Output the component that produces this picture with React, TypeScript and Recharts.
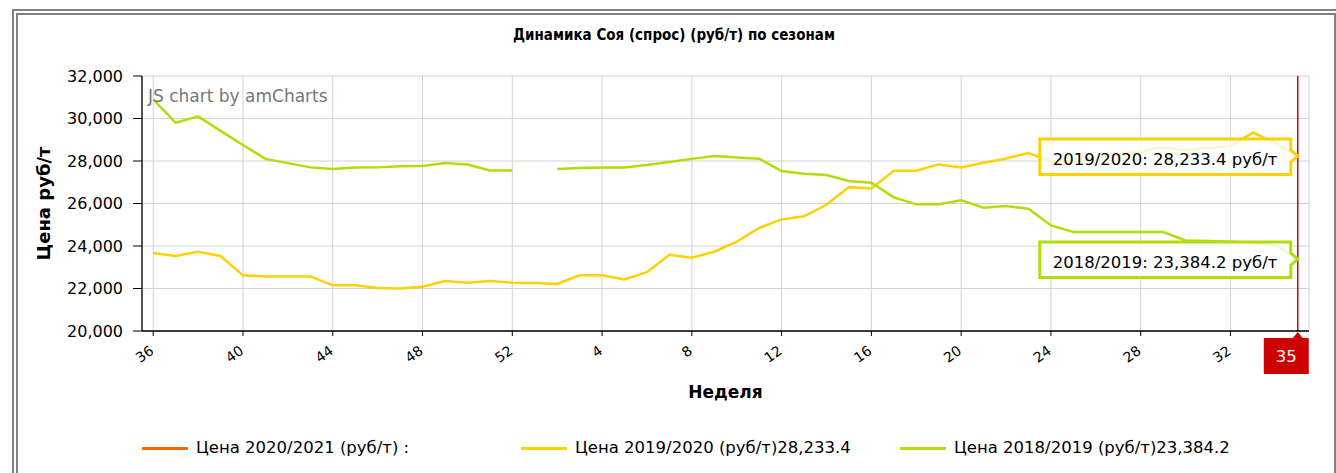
import React from "react";
import {
  LineChart,
  Line,
  XAxis,
  YAxis,
  CartesianGrid,
  ReferenceLine,
  Legend,
} from "recharts";

// weeks of the season, 36 .. 52 then 1 .. 35
const weeks = [
  36, 37, 38, 39, 40, 41, 42, 43, 44, 45, 46, 47, 48, 49, 50, 51, 52,
  1, 2, 3, 4, 5, 6, 7, 8, 9, 10, 11, 12, 13, 14, 15, 16, 17, 18, 19, 20,
  21, 22, 23, 24, 25, 26, 27, 28, 29, 30, 31, 32, 33, 34, 35,
];

const price1920: (number | null)[] = [
  23670, 23530, 23730, 23530, 22620, 22570, 22570, 22570, 22150, 22150, 22020, 22000, 22080, 22350, 22270, 22350, 22270,
  22260, 22210, 22620, 22620, 22430, 22770, 23590, 23450, 23730, 24200, 24850, 25250, 25400, 25940, 26770, 26710, 27540, 27540, 27840, 27690,
  27920, 28120, 28370, 27980, 28000, 28150, 28300, 28450, 28660, 28500, 28620, 28700, 29330, 28860, 28233.4,
];

const price1819: (number | null)[] = [
  30900, 29800, 30100, 29420, 28750, 28100, 27900, 27700, 27620, 27690, 27700, 27750, 27770, 27900, 27830, 27550, 27550,
  null, 27620, 27670, 27690, 27690, 27810, 27950, 28100, 28230, 28170, 28110, 27530, 27400, 27340, 27060, 26980, 26290, 25960, 25960, 26150,
  25800, 25880, 25750, 24970, 24660, 24660, 24660, 24660, 24660, 24260, 24230, 24200, 24150, 24050, 23384.2,
];

// no data yet for the current season
const price2021: (number | null)[] = weeks.map(() => null);

const yTicks = [20000, 22000, 24000, 26000, 28000, 30000, 32000];
const xTickIdx = [0, 4, 8, 12, 16, 20, 24, 28, 32, 36, 40, 44, 48];
const cursorIdx = weeks.length - 1;
const legendOrder = ["p2021", "p1920", "p1819"];

const seriesInfo: Record<string, { values: (number | null)[]; short: string }> = {
  p2021: { values: price2021, short: "2020/2021" },
  p1920: { values: price1920, short: "2019/2020" },
  p1819: { values: price1819, short: "2018/2019" },
};

const rows = weeks.map((w, i) => ({
  idx: i,
  week: w,
  p2021: price2021[i],
  p1920: price1920[i],
  p1819: price1819[i],
}));

const fmt = (v: number) =>
  v.toLocaleString("en-US", { maximumFractionDigits: 1 });

const FONT = "'DejaVu Sans', Verdana, sans-serif";

function WeekTick(props: any) {
  const { x, y, payload } = props;
  const ex = x + 1.5;
  const ey = y + 15;
  return (
    <text
      x={ex}
      y={ey}
      transform={`rotate(-35 ${ex} ${ey})`}
      textAnchor="end"
      fontSize={14}
      fill="#000"
    >
      {weeks[payload.value]}
    </text>
  );
}

function makeBalloon(color: string, dataKey: string) {
  return (props: any) => {
    const { cx, cy, index, value } = props;
    if (index !== cursorIdx || value == null || cx == null) {
      return <g key={`d-${dataKey}-${index}`} />;
    }
    const R = cx - 7;
    const L = R - 251;
    const T = cy - 17;
    const B = cy + 18.5;
    const path = `M${L},${T} H${R} V${cy - 6} L${cx},${cy} L${R},${cy + 6} V${B} H${L} Z`;
    return (
      <g key={`d-${dataKey}-${index}`}>
        <path d={path} fill="#fff" fillOpacity={0.8} stroke={color} strokeWidth={3} />
        <text x={L + 13} y={cy + 9} fontSize={16.5} fill="#000">
          {`${seriesInfo[dataKey].short}: ${fmt(value)} руб/т`}
        </text>
      </g>
    );
  };
}

function CursorLabel(props: any) {
  const { viewBox } = props;
  if (!viewBox) return null;
  const x = viewBox.x;
  const top = viewBox.y + viewBox.height + 7;
  const L = x - 34;
  const R = x + 11;
  const path = `M${L},${top} H${x - 5} L${x},${top - 6} L${x + 5},${top} H${R} V${top + 36} H${L} Z`;
  return (
    <g>
      <path d={path} fill="#CC0000" />
      <text x={(L + R) / 2} y={top + 24} fontSize={16.5} fill="#fff" textAnchor="middle">
        {weeks[cursorIdx]}
      </text>
    </g>
  );
}

function YTitle(props: any) {
  const { viewBox } = props;
  const cx = 43;
  const cy = viewBox.y + viewBox.height / 2;
  return (
    <text
      x={cx}
      y={cy}
      transform={`rotate(-90 ${cx} ${cy})`}
      textAnchor="middle"
      dominantBaseline="central"
      fontSize={18}
      fontWeight="bold"
      fill="#000"
    >
      Цена руб/т
    </text>
  );
}

function XTitle(props: any) {
  const { viewBox } = props;
  return (
    <text
      x={viewBox.x + viewBox.width / 2}
      y={viewBox.y + 61}
      textAnchor="middle"
      dominantBaseline="central"
      fontSize={17}
      fontWeight="bold"
      fill="#000"
    >
      Неделя
    </text>
  );
}

function renderLegend(props: any) {
  const items = [...(props.payload || [])].sort(
    (a: any, b: any) => legendOrder.indexOf(a.dataKey) - legendOrder.indexOf(b.dataKey)
  );
  return (
    <div style={{ display: "flex", fontSize: 16.5, lineHeight: "24px", color: "#000" }}>
      {items.map((p: any) => {
        const info = seriesInfo[p.dataKey];
        const last = info.values[cursorIdx];
        return (
          <div key={p.dataKey} style={{ width: 379, display: "flex", alignItems: "center" }}>
            <span
              style={{ display: "inline-block", width: 46, height: 3, background: p.color, marginRight: 8 }}
            />
            <span style={{ whiteSpace: "nowrap" }}>
              {`Цена ${info.short} (руб/т)${last == null ? " :" : fmt(last)}`}
            </span>
          </div>
        );
      })}
    </div>
  );
}

export default function App() {
  return (
    <div style={{ position: "absolute", left: 0, top: 0, width: 1336, height: 473, overflow: "hidden", background: "#fff", fontFamily: FONT }}>
      <div
        style={{
          position: "absolute",
          left: 12,
          top: 9,
          width: 1328,
          height: 480,
          border: "6px double #808080",
          boxSizing: "border-box",
        }}
      />
      <div
        style={{
          position: "absolute",
          left: 12,
          top: 26,
          width: 1324,
          textAlign: "center",
          fontSize: 15,
          fontWeight: "bold",
          fontFamily: "'DejaVu Sans Condensed', 'DejaVu Sans', sans-serif",
          fontStretch: "condensed",
          color: "#000",
          lineHeight: "18px",
        }}
      >
        Динамика Соя (спрос) (руб/т) по сезонам
      </div>
      <div style={{ position: "absolute", left: 0, top: 0 }}>
        <LineChart
          width={1336}
          height={473}
          data={rows}
          margin={{ top: 76, right: 27, left: 30, bottom: 40 }}
        >
          <CartesianGrid stroke="#d2d2d2" strokeWidth={1} />
          <XAxis
            dataKey="idx"
            type="number"
            domain={[-0.5, weeks.length - 0.5]}
            ticks={xTickIdx}
            interval={0}
            height={102}
            tickSize={5}
            axisLine={{ stroke: "#000", strokeWidth: 1.3 }}
            tickLine={{ stroke: "#000" }}
            tick={<WeekTick />}
            label={<XTitle />}
          />
          <YAxis
            domain={[20000, 32000]}
            ticks={yTicks}
            width={112}
            tickSize={9}
            tickMargin={10}
            tickFormatter={(v: number) => fmt(v)}
            axisLine={{ stroke: "#000", strokeWidth: 1.3 }}
            tickLine={{ stroke: "#000" }}
            tick={{ fontSize: 16, fill: "#000" }}
            label={<YTitle />}
          />
          <Line
            dataKey="p2021"
            name="Цена 2020/2021 (руб/т)"
            stroke="#FF6600"
            strokeWidth={2.5}
            dot={false}
            isAnimationActive={false}
          />
          <Line
            dataKey="p1920"
            name="Цена 2019/2020 (руб/т)"
            stroke="#FCD202"
            strokeWidth={2.5}
            dot={makeBalloon("#FCD202", "p1920")}
            activeDot={false}
            isAnimationActive={false}
          />
          <Line
            dataKey="p1819"
            name="Цена 2018/2019 (руб/т)"
            stroke="#B0DE09"
            strokeWidth={2.5}
            dot={makeBalloon("#B0DE09", "p1819")}
            activeDot={false}
            isAnimationActive={false}
          />
          <ReferenceLine
            x={cursorIdx}
            stroke="#D00000"
            strokeWidth={1.5}
            label={<CursorLabel />}
          />
          <Legend
            layout="horizontal"
            verticalAlign="middle"
            align="center"
            wrapperStyle={{ left: 142, top: 436, width: 1180 }}
            content={renderLegend}
          />
        </LineChart>
      </div>
      <div
        style={{
          position: "absolute",
          left: 148,
          top: 86,
          fontSize: 17,
          color: "#767676",
          lineHeight: "20px",
          whiteSpace: "nowrap",
        }}
      >
        JS chart by amCharts
      </div>
    </div>
  );
}
